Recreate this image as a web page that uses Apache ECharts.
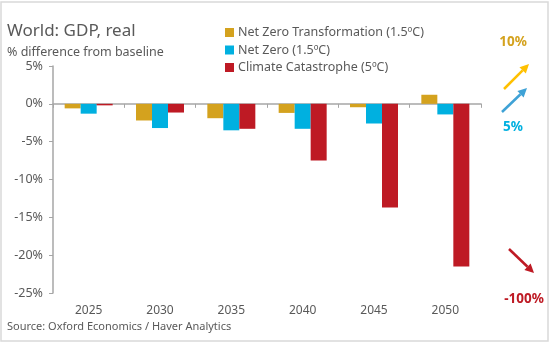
<!DOCTYPE html>
<html>
<head>
<meta charset="utf-8">
<script src="https://cdn.jsdelivr.net/npm/echarts@6/dist/echarts.min.js"></script>
<style>
  html, body { margin: 0; padding: 0; background: #fff; }
  #chart { width: 551px; height: 343px; }
</style>
</head>
<body>
<div id="chart"></div>
<script>
// GDP impact by scenario, % difference from baseline
const years = ['2025', '2030', '2035', '2040', '2045', '2050'];
const netZeroTransformation = [-0.6, -2.2, -1.9, -1.2, -0.45, 1.2];
const netZero = [-1.3, -3.2, -3.5, -3.3, -2.6, -1.4];
const climateCatastrophe = [-0.2, -1.15, -3.3, -7.5, -13.7, -21.5];
const seriesNames = ['Net Zero Transformation (1.5ºC)', 'Net Zero (1.5ºC)', 'Climate Catastrophe (5ºC)'];
const seriesColors = ['#D4A21E', '#00B0E0', '#BE1A24'];

const FONT = '"Noto Sans", "Open Sans", sans-serif';
const GREY = '#595959';

const chart = echarts.init(document.getElementById('chart'), null, { renderer: 'canvas' });

function arrow(x1, y1, x2, y2, color) {
  const ang = Math.atan2(y2 - y1, x2 - x1);
  const L = 9, W = 4.5;
  const bx = x2 - L * Math.cos(ang), by = y2 - L * Math.sin(ang);
  const px = -Math.sin(ang) * W, py = Math.cos(ang) * W;
  return [
    { type: 'line', shape: { x1: x1, y1: y1, x2: bx, y2: by }, style: { stroke: color, lineWidth: 2.5 } },
    { type: 'polygon', shape: { points: [[x2, y2], [bx + px, by + py], [bx - px, by - py]] }, style: { fill: color } }
  ];
}

chart.setOption({
  animation: false,
  textStyle: { fontFamily: FONT },
  title: [
    { text: 'World: GDP, real', left: 2, top: 18, textStyle: { fontFamily: FONT, fontSize: 17, fontWeight: 'normal', color: GREY } },
    { text: '% difference from baseline', left: 2, top: 41, textStyle: { fontFamily: FONT, fontSize: 12.5, fontWeight: 'normal', color: GREY } },
    { text: 'Source: Oxford Economics / Haver Analytics', left: 2, top: 316, textStyle: { fontFamily: FONT, fontSize: 11, fontWeight: 'normal', color: GREY } }
  ],
  legend: {
    orient: 'vertical',
    left: 220,
    top: 21,
    itemWidth: 9,
    itemHeight: 9,
    itemGap: 4.5,
    icon: 'rect',
    textStyle: { fontFamily: FONT, fontSize: 12.5, lineHeight: 13, color: GREY, padding: [0, 0, 0, -1] },
    data: seriesNames
  },
  grid: { left: 53, right: 70, top: 66, bottom: 50, containLabel: false },
  xAxis: [
    {
      type: 'category',
      data: years,
      axisLine: { onZero: true, lineStyle: { color: '#A6A6A6', width: 1.5 } },
      axisTick: { show: true, inside: false, length: 4, lineStyle: { color: '#A6A6A6' } },
      axisLabel: { show: false }
    },
    {
      type: 'category',
      data: years,
      position: 'bottom',
      axisLine: { show: false, onZero: false },
      axisTick: { show: false },
      axisLabel: { show: true, color: GREY, fontSize: 12, fontFamily: FONT, margin: 12 }
    }
  ],
  yAxis: {
    type: 'value',
    min: -25,
    max: 5,
    interval: 5,
    axisLine: { show: true, lineStyle: { color: '#A6A6A6', width: 1.5 } },
    axisTick: { show: true, length: 4, lineStyle: { color: '#A6A6A6' } },
    splitLine: { show: false },
    axisLabel: { color: GREY, fontSize: 12.5, fontFamily: FONT, margin: 10, formatter: '{value}%' }
  },
  series: [netZeroTransformation, netZero, climateCatastrophe].map((vals, i) => ({
    name: seriesNames[i],
    type: 'bar',
    xAxisIndex: 0,
    data: vals,
    barWidth: 16,
    barGap: '0%',
    itemStyle: { color: seriesColors[i] }
  })),
  graphic: [
    { type: 'rect', shape: { x: 1, y: 2, width: 547, height: 339 }, style: { fill: 'none', stroke: '#D9D9D9', lineWidth: 1.5 } },
    { type: 'text', style: { x: 513, y: 42, text: '10%', fill: '#D4A21E', font: 'bold 13.5px ' + FONT, textAlign: 'center', textVerticalAlign: 'middle' } },
    { type: 'text', style: { x: 513, y: 127, text: '5%', fill: '#00B0E0', font: 'bold 13.5px ' + FONT, textAlign: 'center', textVerticalAlign: 'middle' } },
    { type: 'text', style: { x: 524, y: 299, text: '-100%', fill: '#BE1A24', font: 'bold 13.5px ' + FONT, textAlign: 'center', textVerticalAlign: 'middle' } }
  ].concat(arrow(504, 89, 529, 64, '#FFC000'))
   .concat(arrow(502, 112, 527, 88, '#3FA2D6'))
   .concat(arrow(509, 249, 534, 273, '#BE1A24'))
});
</script>
</body>
</html>
